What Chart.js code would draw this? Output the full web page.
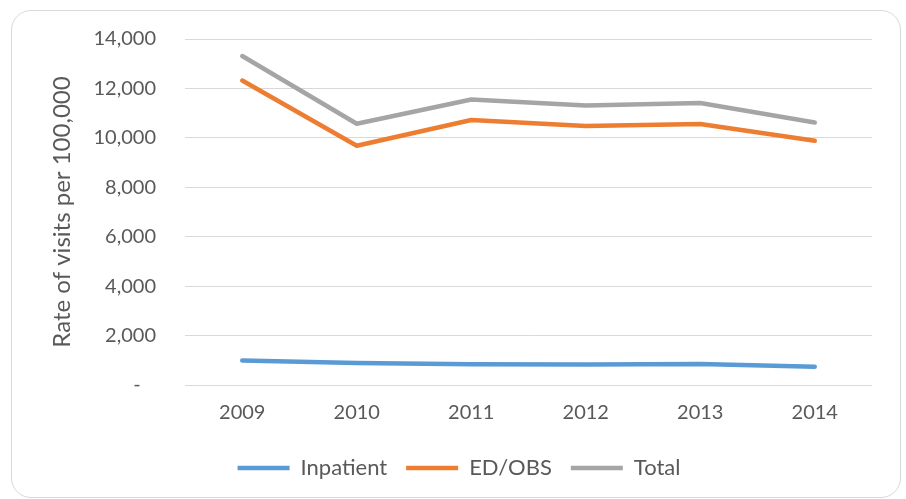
<!DOCTYPE html>
<html>
<head>
<meta charset="utf-8">
<script src="https://cdn.jsdelivr.net/npm/chart.js@4"></script>
<style>
  body { margin: 0; background: #fff; }
  #caja {
    position: absolute; left: 11px; top: 10px;
    width: 888px; height: 486px;
    border: 1px solid #d9d9d9; border-radius: 20px;
    box-sizing: content-box;
  }
</style>
</head>
<body>
<div id="caja"><canvas id="grafica" width="888" height="486"></canvas></div>
<script>
// datos
const anios = ['2009', '2010', '2011', '2012', '2013', '2014'];
const inpatient = [990, 890, 835, 830, 850, 740];
const edObs = [12320, 9680, 10720, 10480, 10560, 9880];
const total = [13310, 10570, 11555, 11310, 11410, 10620];
const marcasY = [0, 2000, 4000, 6000, 8000, 10000, 12000, 14000];

const fuente = 'Lato, "Noto Sans", sans-serif';
const gris = '#595959';

function serie(nombre, valores, color) {
    return {
        label: nombre,
        data: valores,
        borderColor: color,
        backgroundColor: color,
        borderWidth: 4.5,
        borderCapStyle: 'round',
        borderJoinStyle: 'round',
        pointRadius: 0,
        tension: 0
    };
}

const config = {
    type: 'line',
    data: {
        labels: anios,
        datasets: [
            serie('Inpatient', inpatient, '#5b9bd5'),
            serie('ED/OBS', edObs, '#ed7d31'),
            serie('Total', total, '#a5a5a5')
        ]
    },
    options: {
        responsive: false,
        animation: false,
        layout: { padding: { left: 34, right: 28, top: 28, bottom: 8 } },
        plugins: {
            tooltip: { enabled: false },
            legend: {
                position: 'bottom',
                labels: {
                    usePointStyle: true,
                    pointStyle: 'line',
                    pointStyleWidth: 52,
                    padding: 19,
                    color: gris,
                    font: { family: fuente, size: 22 }
                }
            }
        },
        scales: {
            x: {
                offset: true,
                grid: { display: false, drawTicks: false },
                border: { display: false },
                ticks: { color: gris, padding: 16, font: { family: fuente, size: 20 } },
                afterFit: function (escala) { escala.height = 53; }
            },
            y: {
                min: 0,
                max: 14000,
                afterBuildTicks: function (escala) {
                    escala.ticks = marcasY.map(v => ({ value: v }));
                },
                grid: { color: '#d9d9d9', lineWidth: 1, drawTicks: false },
                border: { display: false },
                ticks: {
                    color: gris,
                    padding: 29,
                    font: { family: fuente, size: 20 },
                    callback: function (v) {
                        // formato contable: el cero es un guion
                        return v === 0 ? '-   ' : v.toLocaleString('en-US');
                    }
                },
                title: {
                    display: true,
                    text: 'Rate of visits per 100,000',
                    color: gris,
                    padding: { top: 2, bottom: 0 },
                    font: { family: fuente, size: 24 }
                },
                afterFit: function (escala) {
                    escala.width = 139;
                    // el padding de las etiquetas no debe empujar el area del grafico
                    escala.paddingTop = 0;
                    escala.paddingBottom = 0;
                }
            }
        }
    }
};

window.grafica = new Chart(document.getElementById('grafica'), config);
</script>
</body>
</html>
